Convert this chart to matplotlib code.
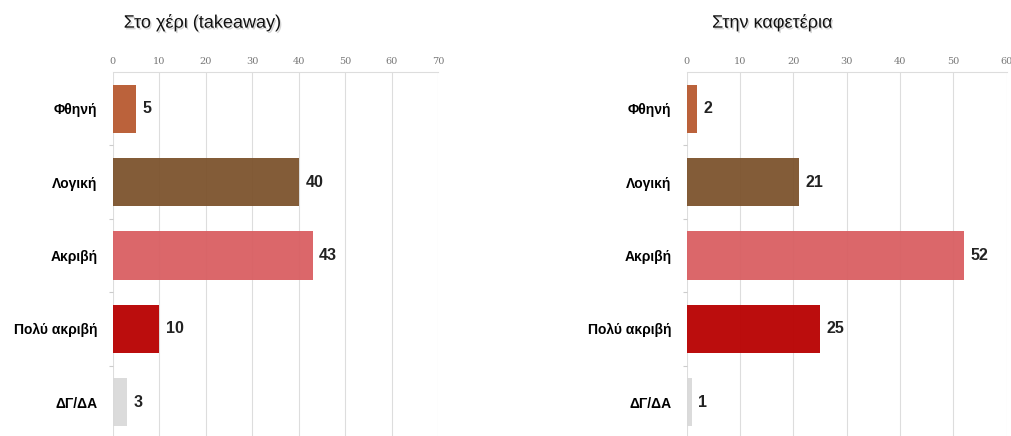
import matplotlib.pyplot as plt
import matplotlib.patheffects as pe
import numpy as np

# price perception survey, two contexts
categories = ["Φθηνή", "Λογική", "Ακριβή", "Πολύ ακριβή", "ΔΓ/ΔΑ"]
takeaway = [5, 40, 43, 10, 3]
cafe = [2, 21, 52, 25, 1]
colors = ["#b85a30", "#7c532d", "#d95f62", "#b80000", "#d9d9d9"]

sans = ["Liberation Sans", "DejaVu Sans"]

fig = plt.figure(figsize=(10.12, 4.36), dpi=100)
fig.patch.set_facecolor("white")

panels = [
    ("Στο χέρι (takeaway)", takeaway, [0.1114, -0.0070, 0.3217, 0.8419], 70, 0.200),
    ("Στην καφετέρια", cafe, [0.6785, -0.0070, 0.3162, 0.8419], 60, 0.763),
]

for title, values, pos, xmax, title_x in panels:
    ax = fig.add_axes(pos)
    y = np.arange(len(categories))
    ax.barh(y, values, height=0.655, color=colors, alpha=0.95, zorder=2)
    ax.set_xlim(0, xmax)
    ax.set_ylim(len(categories) - 0.5, -0.5)

    ax.xaxis.tick_top()
    ax.set_xticks(np.arange(0, xmax + 1, 10))
    ax.tick_params(axis="x", length=0, pad=4, labelsize=7, labelcolor="#777777")
    for lbl in ax.get_xticklabels():
        lbl.set_family("DejaVu Serif")
    ax.grid(axis="x", color="#dddddd", linewidth=0.8, zorder=0)

    ax.set_yticks(y)
    ax.set_yticklabels(categories, fontsize=10, fontweight="bold", family=sans)
    ax.tick_params(axis="y", length=0, pad=11)
    ax.set_yticks(np.arange(0.5, len(categories) - 0.5), minor=True)
    ax.tick_params(axis="y", which="minor", length=3, color="#cccccc", width=0.8)

    for s in ["right", "bottom", "left"]:
        ax.spines[s].set_visible(False)
    ax.spines["top"].set_color("#dddddd")
    ax.spines["top"].set_linewidth(0.8)

    for yi, v in zip(y, values):
        ax.text(v + xmax * 0.02, yi, str(v), va="center", ha="left",
                fontsize=11.5, fontweight="bold", family=sans, color="#222222")

    fig.text(title_x, 0.948, title, ha="center", va="center", fontsize=13,
             family=sans, color="#111111",
             path_effects=[pe.withSimplePatchShadow(offset=(1, -1.2), alpha=0.25,
                                                    shadow_rgbFace="#555555")])

fig.savefig("out.png", dpi=100, facecolor="white")
